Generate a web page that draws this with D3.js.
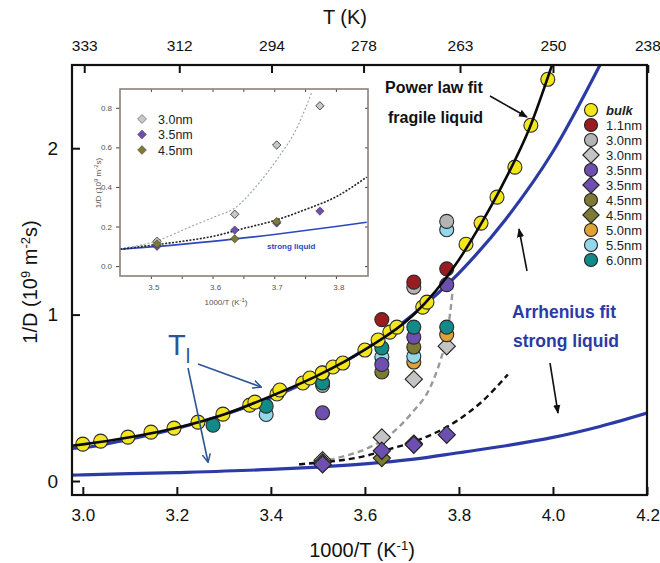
<!DOCTYPE html>
<html>
<head>
<meta charset="utf-8">
<script src="https://cdn.jsdelivr.net/npm/d3@7"></script>
<style>
  html, body { margin: 0; padding: 0; background: #fff; }
  svg { display: block; font-family: "Liberation Sans", Arial, sans-serif; }
</style>
</head>
<body>
<svg id="chart" width="660" height="563"></svg>
<script>
// ---------- data ----------
// bulk water: 1000/T (K^-1) and 1/D (10^9 m^-2 s)
const bulkX = [3.000, 3.038, 3.096, 3.145, 3.194, 3.245, 3.298, 3.355, 3.366, 3.413, 3.419,
               3.468, 3.483, 3.509, 3.532, 3.553, 3.600, 3.628, 3.653, 3.668, 3.723, 3.732,
               3.815, 3.847, 3.881, 3.919, 3.953, 3.989];
const bulkY = [0.222, 0.240, 0.264, 0.294, 0.318, 0.354, 0.402, 0.456, 0.474, 0.523, 0.547,
               0.589, 0.619, 0.649, 0.685, 0.709, 0.787, 0.847, 0.895, 0.925, 1.045, 1.075,
               1.423, 1.550, 1.706, 1.886, 2.138, 2.414];

// confined water, circles (main panel)
const pore11X = [3.510, 3.636, 3.704, 3.774];  const pore11Y = [0.650, 0.970, 1.195, 1.275];
const pore30X = [3.510, 3.704, 3.774];         const pore30Y = [0.575, 1.165, 1.560];
const pore35X = [3.510, 3.636, 3.704, 3.774];  const pore35Y = [0.410, 0.700, 0.865, 1.180];
const pore45X = [3.636, 3.704];                const pore45Y = [0.655, 0.805];
const pore50X = [3.704, 3.774];                const pore50Y = [0.715, 0.880];
const pore55X = [3.390, 3.636, 3.704, 3.774];  const pore55Y = [0.400, 0.745, 0.750, 1.510];
const pore60X = [3.277, 3.390, 3.510, 3.636, 3.704, 3.774];
const pore60Y = [0.335, 0.450, 0.590, 0.800, 0.925, 0.925];

// confined water, diamonds (main panel and inset)
const dia30X = [3.510, 3.636, 3.704, 3.774];   const dia30Y = [0.125, 0.262, 0.612, 0.810];
const dia35X = [3.510, 3.636, 3.704, 3.774];   const dia35Y = [0.100, 0.182, 0.218, 0.278];
const dia45X = [3.510, 3.636, 3.704];          const dia45Y = [0.112, 0.138, 0.225];

// fit curves (main panel)
const powerX = [2.977, 3.0, 3.1, 3.2, 3.3, 3.4, 3.5, 3.6, 3.7, 3.75, 3.8, 3.85, 3.9, 3.95, 3.998];
const powerY = [0.212, 0.220, 0.263, 0.320, 0.400, 0.510, 0.635, 0.790, 0.990, 1.140, 1.330, 1.560, 1.820, 2.120, 2.500];
const arrhUpX = [2.977, 3.0, 3.1, 3.2, 3.3, 3.4, 3.5, 3.6, 3.7, 3.8, 3.9, 4.0, 4.1];
const arrhUpY = [0.196, 0.200, 0.252, 0.316, 0.398, 0.500, 0.629, 0.791, 0.995, 1.250, 1.575, 1.980, 2.500];
const arrhLoX = [2.977, 3.0, 3.2, 3.4, 3.5, 3.6, 3.7, 3.8, 3.9, 4.0, 4.1, 4.2];
const arrhLoY = [0.035, 0.037, 0.051, 0.070, 0.084, 0.103, 0.130, 0.170, 0.212, 0.262, 0.328, 0.408];
const fit30X = [3.46, 3.50, 3.55, 3.60, 3.65, 3.70, 3.74, 3.76, 3.775, 3.787];
const fit30Y = [0.100, 0.115, 0.145, 0.190, 0.270, 0.410, 0.570, 0.720, 0.880, 1.150];
const fit35X = [3.46, 3.50, 3.55, 3.60, 3.65, 3.70, 3.75, 3.80, 3.85, 3.904];
const fit35Y = [0.100, 0.110, 0.125, 0.150, 0.190, 0.232, 0.290, 0.370, 0.480, 0.640];

// fit curves (inset)
const inFit30X = [3.45, 3.51, 3.563, 3.60, 3.639, 3.67, 3.704, 3.737, 3.761];
const inFit30Y = [0.088, 0.128, 0.197, 0.245, 0.300, 0.400, 0.537, 0.700, 0.880];
const inFit35X = [3.45, 3.50, 3.55, 3.60, 3.65, 3.70, 3.75, 3.80, 3.85];
const inFit35Y = [0.085, 0.105, 0.125, 0.150, 0.190, 0.230, 0.285, 0.350, 0.450];
const inStrongX = [3.45, 3.50, 3.60, 3.70, 3.80, 3.85];
const inStrongY = [0.085, 0.097, 0.125, 0.160, 0.200, 0.222];

// axis ticks
const xTicks = [3.0, 3.2, 3.4, 3.6, 3.8, 4.0, 4.2];
const yTicks = [0, 1, 2];
const topTempLabels = [333, 312, 294, 278, 263, 250, 238];
const inXTicks = [3.5, 3.6, 3.7, 3.8];
const inXMinor = [3.5, 3.55, 3.6, 3.65, 3.7, 3.75, 3.8];
const inYTicks = [0.0, 0.2, 0.4, 0.6, 0.8];

// legend
const legendNames = ["bulk", "1.1nm", "3.0nm", "3.0nm", "3.5nm", "3.5nm", "4.5nm", "4.5nm", "5.0nm", "5.5nm", "6.0nm"];
const legendShapes = ["c", "c", "c", "d", "c", "d", "c", "d", "c", "c", "c"];
const legendColors = ["#f3e61b", "#981c20", "#b4b4b4", "#c4c4c4", "#6c4fae", "#6c4fae", "#7c7a35", "#7c7a35", "#e0a236", "#92d8ea", "#138a88"];
const insetLegendNames = ["3.0nm", "3.5nm", "4.5nm"];

// ---------- drawing ----------
const svg = d3.select("#chart");
const BLUE = "#2c3aa6";
const TLBLUE = "#2c5597";

const x = d3.scaleLinear().domain([2.977, 4.2]).range([72, 647]);
const y = d3.scaleLinear().domain([-0.084, 2.5]).range([495, 65]);

const defs = svg.append("defs");
defs.append("clipPath").attr("id", "plotClip")
  .append("rect").attr("x", x.range()[0]).attr("y", y.range()[1])
  .attr("width", x.range()[1] - x.range()[0]).attr("height", y.range()[0] - y.range()[1]);
function arrowMarker(id, color, filled) {
  const m = defs.append("marker").attr("id", id)
    .attr("viewBox", "0 0 10 10").attr("refX", 9).attr("refY", 5)
    .attr("markerWidth", 9).attr("markerHeight", 9)
    .attr("markerUnits", "userSpaceOnUse").attr("orient", "auto");
  if (filled) {
    m.append("path").attr("d", "M0,1 L10,5 L0,9 Z").attr("fill", color);
  } else {
    m.append("path").attr("d", "M0,0.5 L9.5,5 L0,9.5").attr("fill", "none")
      .attr("stroke", color).attr("stroke-width", 1.6);
  }
}
arrowMarker("arrBlack", "#111", true);
arrowMarker("arrBlue", TLBLUE, false);

const zip = (xs, ys) => xs.map((v, i) => [v, ys[i]]);
const diamond = d3.symbol().type(d3.symbolDiamond2 || d3.symbolDiamond);

function curve(sx, sy, pts, opts, parent, curveType) {
  const line = d3.line().x(d => sx(d[0])).y(d => sy(d[1])).curve(curveType || d3.curveMonotoneX);
  const p = parent.append("path").attr("d", line(pts)).attr("fill", "none")
    .attr("stroke", opts.color).attr("stroke-width", opts.width)
    .attr("stroke-linecap", opts.cap || "butt");
  if (opts.dash) p.attr("stroke-dasharray", opts.dash);
  return p;
}

// main plot layers
const plot = svg.append("g").attr("clip-path", "url(#plotClip)");

// Arrhenius fits (blue)
curve(x, y, zip(arrhLoX, arrhLoY), { color: BLUE, width: 3.2 }, plot);
curve(x, y, zip(arrhUpX, arrhUpY), { color: BLUE, width: 3.2 }, plot);

// dashed fits for the smaller pores
curve(x, y, zip(fit30X, fit30Y), { color: "#9a9a9a", width: 2.4, dash: "6,4" }, plot);
curve(x, y, zip(fit35X, fit35Y), { color: "#111", width: 2.4, dash: "6,4" }, plot);

// diamonds
function drawDiamonds(xs, ys, color, g, sx, sy, size, sw) {
  g.selectAll(null).data(zip(xs, ys)).enter().append("path")
    .attr("transform", d => `translate(${sx(d[0])},${sy(d[1])})`)
    .attr("d", diamond.size(size)())
    .attr("fill", color).attr("stroke", "#222").attr("stroke-width", sw);
}
function drawCircles(xs, ys, color, g, r) {
  g.selectAll(null).data(zip(xs, ys)).enter().append("circle")
    .attr("cx", d => x(d[0])).attr("cy", d => y(d[1])).attr("r", r)
    .attr("fill", color).attr("stroke", "#2a2a2a").attr("stroke-width", 1.1);
}
drawDiamonds(dia30X, dia30Y, "#c4c4c4", plot, x, y, 190, 1.1);
drawDiamonds(dia45X, dia45Y, "#7c7a35", plot, x, y, 190, 1.1);
drawDiamonds(dia35X, dia35Y, "#6c4fae", plot, x, y, 190, 1.1);

// circles of the confined samples
drawCircles(pore50X, pore50Y, "#e0a236", plot, 7);
drawCircles(pore55X, pore55Y, "#92d8ea", plot, 7);
drawCircles(pore45X, pore45Y, "#7c7a35", plot, 7);
drawCircles(pore35X, pore35Y, "#6c4fae", plot, 7);
drawCircles(pore30X, pore30Y, "#b4b4b4", plot, 7);
drawCircles(pore60X, pore60Y, "#138a88", plot, 7);
drawCircles(pore11X, pore11Y, "#981c20", plot, 7);

// bulk water
drawCircles(bulkX, bulkY, "#f3e61b", plot, 7);

// power-law fit over the bulk points
curve(x, y, zip(powerX, powerY), { color: "#0a0a0a", width: 2.6 }, plot);

// ---------- axes ----------
const axes = svg.append("g");
const xB = d3.axisBottom(x).tickValues(xTicks).tickSizeInner(-8).tickSizeOuter(0).tickPadding(14)
  .tickFormat(d3.format(".1f"));
const gxB = axes.append("g").attr("transform", `translate(0,${y.range()[0]})`).call(xB);
const xT = d3.axisTop(x).tickValues(topTempLabels.map(t => 1000 / t)).tickSizeInner(-8).tickSizeOuter(0)
  .tickPadding(14).tickFormat((d, i) => topTempLabels[i]);
const gxT = axes.append("g").attr("transform", `translate(0,${y.range()[1]})`).call(xT);
const yL = d3.axisLeft(y).tickValues(yTicks).tickSizeInner(-8).tickSizeOuter(0).tickPadding(14)
  .tickFormat(d3.format("d"));
const gyL = axes.append("g").attr("transform", `translate(${x.range()[0]},0)`).call(yL);
[gxB, gxT, gyL].forEach(g => {
  g.select(".domain").remove();
  g.selectAll(".tick line").attr("stroke", "#111").attr("stroke-width", 2);
  g.selectAll(".tick text").attr("fill", "#111").attr("font-size", 17)
    .attr("font-family", "Liberation Sans, Arial, sans-serif");
});
gxT.selectAll(".tick text").attr("font-size", 15.5);
// keep the last top label inside the page edge
gxT.selectAll(".tick text").filter((d, i) => i === topTempLabels.length - 1)
  .attr("text-anchor", "end").attr("dx", 12.5);
gxB.selectAll(".tick text").filter((d, i) => i === xTicks.length - 1)
  .attr("text-anchor", "end").attr("dx", 12.5);
gyL.selectAll(".tick text").attr("font-size", 19);

// frame
axes.append("rect").attr("x", x.range()[0]).attr("y", y.range()[1])
  .attr("width", x.range()[1] - x.range()[0]).attr("height", y.range()[0] - y.range()[1])
  .attr("fill", "none").attr("stroke", "#111").attr("stroke-width", 2.2);

// axis titles
svg.append("text").attr("x", 345).attr("y", 24).attr("text-anchor", "middle")
  .attr("font-size", 20).attr("fill", "#111").text("T (K)");
const xt = svg.append("text").attr("x", 362).attr("y", 557).attr("text-anchor", "middle")
  .attr("font-size", 20).attr("fill", "#111");
xt.append("tspan").text("1000/T (K");
xt.append("tspan").attr("baseline-shift", "super").attr("font-size", 13).text("-1");
xt.append("tspan").text(")");
const yt = svg.append("text").attr("transform", "translate(37,282) rotate(-90)")
  .attr("text-anchor", "middle").attr("font-size", 20).attr("fill", "#111");
yt.append("tspan").text("1/D (10");
yt.append("tspan").attr("baseline-shift", "super").attr("font-size", 13).text("9");
yt.append("tspan").text(" m");
yt.append("tspan").attr("baseline-shift", "super").attr("font-size", 13).text("-2");
yt.append("tspan").text("s)");

// ---------- annotations ----------
const ann = svg.append("g").attr("font-weight", "bold");
ann.append("text").attr("x", 385).attr("y", 93).attr("font-size", 16).attr("fill", "#111").text("Power law fit");
ann.append("text").attr("x", 388).attr("y", 123).attr("font-size", 16).attr("fill", "#111").text("fragile liquid");
ann.append("text").attr("x", 512).attr("y", 318).attr("font-size", 17.5).attr("fill", BLUE).text("Arrhenius fit");
ann.append("text").attr("x", 513).attr("y", 347).attr("font-size", 17.5).attr("fill", BLUE).text("strong liquid");

function arrow(x1, y1, x2, y2, color, marker, w) {
  svg.append("line").attr("x1", x1).attr("y1", y1).attr("x2", x2).attr("y2", y2)
    .attr("stroke", color).attr("stroke-width", w).attr("marker-end", `url(#${marker})`);
}
arrow(490, 96, 527, 117, "#111", "arrBlack", 1.6);
arrow(527, 271, 519, 229, "#111", "arrBlack", 1.6);
arrow(550, 363, 558, 413, "#111", "arrBlack", 1.6);

// T_l label with arrows
const tl = svg.append("text").attr("x", 168).attr("y", 355).attr("fill", TLBLUE).attr("font-size", 29);
tl.append("tspan").text("T");
tl.append("tspan").attr("font-size", 20).attr("dy", 8).text("l");
arrow(198, 364, 261, 387, TLBLUE, "arrBlue", 1.6);
arrow(188, 368, 208, 462, TLBLUE, "arrBlue", 1.6);

// ---------- legend ----------
const leg = svg.append("g");
legendNames.forEach((name, i) => {
  const cy = 110 + i * 15;
  if (legendShapes[i] === "c") {
    leg.append("circle").attr("cx", 591).attr("cy", cy).attr("r", 6.5)
      .attr("fill", legendColors[i]).attr("stroke", "#222").attr("stroke-width", 1.1);
  } else {
    leg.append("path").attr("transform", `translate(591,${cy})`).attr("d", diamond.size(170)())
      .attr("fill", legendColors[i]).attr("stroke", "#222").attr("stroke-width", 1.1);
  }
  const t = leg.append("text").attr("x", 606).attr("y", cy + 4.5).attr("font-size", 13)
    .attr("fill", "#222").text(name);
  if (i === 0) t.attr("font-style", "italic").attr("font-weight", "bold");
});

// ---------- inset ----------
const ix = d3.scaleLinear().domain([3.45, 3.852]).range([120, 368]);
const iy = d3.scaleLinear().domain([-0.05, 0.895]).range([276, 89]);
const inset = svg.append("g");
inset.append("rect").attr("x", 120).attr("y", 89).attr("width", 248).attr("height", 187)
  .attr("fill", "#fff");
defs.append("clipPath").attr("id", "insetClip")
  .append("rect").attr("x", 120).attr("y", 89).attr("width", 248).attr("height", 187);
const ip = inset.append("g").attr("clip-path", "url(#insetClip)");
curve(ix, iy, zip(inFit30X, inFit30Y), { color: "#8fa3ad", width: 1.1, dash: "2,2" }, ip);
curve(ix, iy, zip(inStrongX, inStrongY), { color: "#2a48c0", width: 1.6 }, ip);
curve(ix, iy, zip(inFit35X, inFit35Y), { color: "#222", width: 1.6, dash: "2,1.5" }, ip);
drawDiamonds(dia30X, dia30Y, "#c8c8c8", ip, ix, iy, 45, 0.8);
drawDiamonds(dia35X, dia35Y, "#6c4fae", ip, ix, iy, 45, 0.5);
drawDiamonds(dia45X, dia45Y, "#7c7a35", ip, ix, iy, 45, 0.5);

const IFRAME = "#8a8078";
const iaxB = d3.axisBottom(ix).tickValues(inXMinor).tickSizeInner(3).tickSizeOuter(0).tickFormat("");
const iaxT = d3.axisTop(ix).tickValues(inXMinor).tickSizeInner(-3).tickSizeOuter(0).tickFormat("");
const iaxL = d3.axisLeft(iy).tickValues(inYTicks).tickSizeInner(4).tickSizeOuter(0).tickPadding(4)
  .tickFormat(d3.format(".1f"));
const iaxR = d3.axisRight(iy).tickValues(inYTicks).tickSizeInner(-3).tickSizeOuter(0).tickFormat("");
const ig = [
  inset.append("g").attr("transform", "translate(0,276)").call(iaxB),
  inset.append("g").attr("transform", "translate(0,89)").call(iaxT),
  inset.append("g").attr("transform", "translate(120,0)").call(iaxL),
  inset.append("g").attr("transform", "translate(368,0)").call(iaxR)
];
ig.forEach(g => {
  g.select(".domain").remove();
  g.selectAll(".tick line").attr("stroke", "#444").attr("stroke-width", 1);
  g.selectAll(".tick text").attr("fill", "#555").attr("font-size", 8)
    .attr("font-family", "Liberation Sans, Arial, sans-serif");
});
// labelled bottom ticks
inset.selectAll(null).data(inXTicks).enter().append("text")
  .attr("x", d => ix(d) + 3).attr("y", 290).attr("text-anchor", "middle")
  .attr("font-size", 8).attr("fill", "#555").text(d => d.toFixed(1));
inset.append("rect").attr("x", 120).attr("y", 89).attr("width", 248).attr("height", 187)
  .attr("fill", "none").attr("stroke", IFRAME).attr("stroke-width", 1.6);

const ixt = inset.append("text").attr("x", 226).attr("y", 305).attr("text-anchor", "middle")
  .attr("font-size", 8).attr("fill", "#555");
ixt.append("tspan").text("1000/T (K");
ixt.append("tspan").attr("baseline-shift", "super").attr("font-size", 6).text("-1");
ixt.append("tspan").text(")");
const iyt = inset.append("text").attr("transform", "translate(101,183) rotate(-90)")
  .attr("text-anchor", "middle").attr("font-size", 8).attr("fill", "#555");
iyt.append("tspan").text("1/D (10");
iyt.append("tspan").attr("baseline-shift", "super").attr("font-size", 6).text("9");
iyt.append("tspan").text(" m");
iyt.append("tspan").attr("baseline-shift", "super").attr("font-size", 6).text("-2");
iyt.append("tspan").text("s)");

inset.append("text").attr("x", 267).attr("y", 249).attr("font-size", 8).attr("font-weight", "bold")
  .attr("fill", "#2a48c0").text("strong liquid");

const insetLegColors = ["#c8c8c8", "#6c4fae", "#7c7a35"];
insetLegendNames.forEach((name, i) => {
  const cy = 119 + i * 15.5;
  inset.append("path").attr("transform", `translate(142,${cy})`).attr("d", diamond.size(50)())
    .attr("fill", insetLegColors[i]).attr("stroke", i === 0 ? "#888" : "#444").attr("stroke-width", i === 0 ? 1 : 0.5);
  inset.append("text").attr("x", 158).attr("y", cy + 4.5).attr("font-size", 12.5)
    .attr("fill", "#222").text(name);
});
</script>
</body>
</html>
